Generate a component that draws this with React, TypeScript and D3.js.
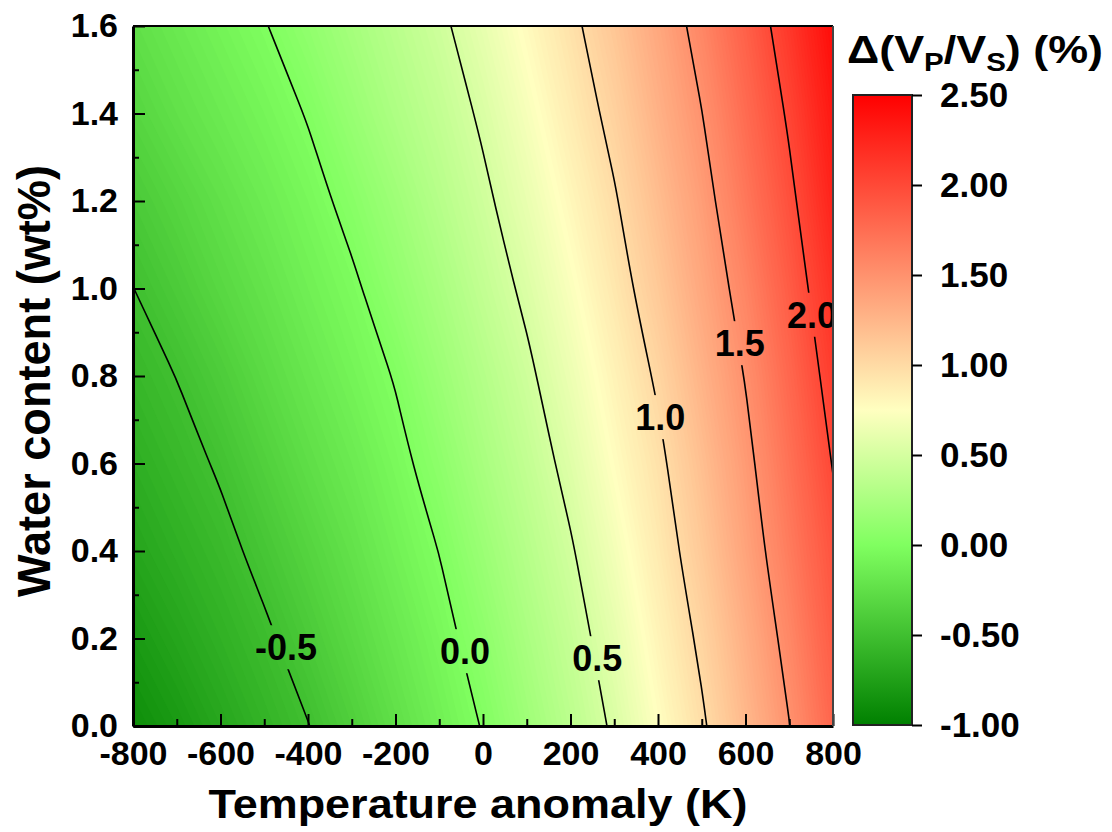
import React, { useEffect, useRef } from 'react';
import * as d3 from 'd3';

// grid of Δ(Vp/Vs) (%), one array per water content row
const tempGrid = [-800, -700, -600, -500, -400, -300, -200, -100, 0, 100, 200, 300, 400, 500, 600, 700, 800];
const waterGrid = [0, 0.2, 0.4, 0.6, 0.8, 1.0, 1.2, 1.4, 1.6];

const rowW00 = [-0.89, -0.80, -0.70, -0.60, -0.505, -0.38, -0.25, -0.12, 0.01, 0.18, 0.35, 0.53, 0.75, 0.97, 1.23, 1.495, 1.80];
const rowW02 = [-0.80, -0.71, -0.62, -0.53, -0.42, -0.30, -0.18, -0.06, 0.08, 0.25, 0.41, 0.60, 0.82, 1.04, 1.30, 1.57, 1.87];
const rowW04 = [-0.71, -0.63, -0.55, -0.45, -0.34, -0.23, -0.11, 0.003, 0.16, 0.32, 0.48, 0.68, 0.89, 1.12, 1.38, 1.65, 1.93];
const rowW06 = [-0.64, -0.56, -0.48, -0.37, -0.26, -0.16, -0.05, 0.08, 0.24, 0.39, 0.56, 0.76, 0.95, 1.19, 1.44, 1.72, 2.01];
const rowW08 = [-0.57, -0.497, -0.40, -0.29, -0.19, -0.09, 0.01, 0.16, 0.31, 0.46, 0.64, 0.83, 1.03, 1.27, 1.51, 1.79, 2.09];
const rowW10 = [-0.502, -0.41, -0.31, -0.22, -0.12, -0.03, 0.10, 0.24, 0.39, 0.54, 0.72, 0.91, 1.12, 1.35, 1.59, 1.87, 2.17];
const rowW12 = [-0.42, -0.33, -0.24, -0.15, -0.06, 0.05, 0.18, 0.32, 0.46, 0.62, 0.80, 0.98, 1.20, 1.42, 1.68, 1.95, 2.26];
const rowW14 = [-0.33, -0.24, -0.16, -0.08, 0.01, 0.14, 0.27, 0.39, 0.53, 0.70, 0.88, 1.06, 1.28, 1.496, 1.76, 2.03, 2.34];
const rowW16 = [-0.25, -0.17, -0.09, -0.01, 0.10, 0.22, 0.34, 0.46, 0.61, 0.78, 0.95, 1.14, 1.35, 1.58, 1.84, 2.12, 2.42];

// contour lines and where their labels sit
const contourLevels = [-0.5, 0, 0.5, 1.0, 1.5, 2.0];
const labelText = ['-0.5', '0.0', '0.5', '1.0', '1.5', '2.0'];
const labelTemp = [-450, -41, 261, 405, 587, 752];
const labelWater = [0.18, 0.171, 0.155, 0.706, 0.875, 0.94];

// axes
const xTicks = [-800, -600, -400, -200, 0, 200, 400, 600, 800];
const xMinor = [-700, -500, -300, -100, 100, 300, 500, 700];
const yTicks = [0, 0.2, 0.4, 0.6, 0.8, 1.0, 1.2, 1.4, 1.6];
const yMinor = [0.1, 0.3, 0.5, 0.7, 0.9, 1.1, 1.3, 1.5];
const barTicks = [-1, -0.5, 0, 0.5, 1, 1.5, 2, 2.5];

// colour map
const colorDomain = [-1, 0, 0.75, 2.5];
const colorRange = ['#008000', '#80ff60', '#ffffc0', '#ff0000'];

function App() {
  const ref = useRef(null);

  useEffect(() => {
    drawChart();
  }, []);

  function drawChart() {
    const svg = d3.select(ref.current);
    svg.selectAll('*').remove();

    const font = 'Arial, "Liberation Sans", sans-serif';
    const left = 133, top = 26, plotW = 700, plotH = 700;

    const x = d3.scaleLinear().domain([-800, 800]).range([left, left + plotW]);
    const y = d3.scaleLinear().domain([0, 1.6]).range([top + plotH, top]);
    const color = d3.scaleLinear<string>().domain(colorDomain).range(colorRange).clamp(true);

    const defs = svg.append('defs');
    defs.append('clipPath').attr('id', 'plotClip')
      .append('rect')
      .attr('x', left).attr('y', top).attr('width', plotW).attr('height', plotH);

    const labels = labelText.map((t, i) => ({ text: t, T: labelTemp[i], w: labelWater[i] }));

    // mask cutting the contour lines under their labels
    const mask = defs.append('mask').attr('id', 'labelGap')
      .attr('maskUnits', 'userSpaceOnUse')
      .attr('x', 0).attr('y', 0).attr('width', 1112).attr('height', 832);
    mask.append('rect').attr('width', 1112).attr('height', 832).attr('fill', 'white');
    mask.selectAll('rect.gap')
      .data(labels)
      .join('rect')
      .attr('class', 'gap')
      .attr('x', d => x(d.T) - 34)
      .attr('y', d => y(d.w) - 22)
      .attr('width', 68)
      .attr('height', 44)
      .attr('fill', 'black');

    // colorbar gradient
    const grad = defs.append('linearGradient').attr('id', 'cbar')
      .attr('x1', 0).attr('y1', 1).attr('x2', 0).attr('y2', 0);
    colorDomain.forEach(v => {
      grad.append('stop')
        .attr('offset', (v - colorDomain[0]) / (colorDomain[colorDomain.length - 1] - colorDomain[0]))
        .attr('stop-color', color(v));
    });

    // grid -> plot coordinates
    const gridRows = [rowW00, rowW02, rowW04, rowW06, rowW08, rowW10, rowW12, rowW14, rowW16];
    const values = gridRows.flat();
    const nx = tempGrid.length, ny = waterGrid.length;
    const dT = tempGrid[1] - tempGrid[0];
    const dW = waterGrid[1] - waterGrid[0];
    const px = (c: number) => x(tempGrid[0] + (c - 0.5) * dT);
    const py = (r: number) => y(waterGrid[0] + (r - 0.5) * dW);
    const toPlot = d3.geoTransform({
      point(c, r) {
        this.stream.point(px(c), py(r));
      }
    });
    const path = d3.geoPath(toPlot);

    const plot = svg.append('g').attr('clip-path', 'url(#plotClip)');

    // smooth colour fill from many thin bands
    const step = 0.02;
    const bandLevels = d3.range(-1.2, 2.6, step);
    const bands = d3.contours().size([nx, ny]).thresholds(bandLevels)(values);
    plot.append('g')
      .selectAll('path')
      .data(bands)
      .join('path')
      .attr('d', path)
      .attr('fill', d => color(d.value + step / 2))
      .attr('stroke', 'none');

    // contour lines: keep only the ring parts inside the sampled area, drawn as smooth open curves
    const eps = 1e-6;
    const inside = (p: number[]) =>
      p[0] >= 0.5 - eps && p[0] <= nx - 0.5 + eps && p[1] >= 0.5 - eps && p[1] <= ny - 0.5 + eps;
    const runsOf = (ring: number[][]) => {
      const pts = ring.slice(0, -1);
      const start = pts.findIndex(p => !inside(p));
      if (start < 0) return [pts.concat([pts[0]])];
      const rot = pts.slice(start).concat(pts.slice(0, start));
      const runs: number[][][] = [];
      let cur: number[][] = [];
      rot.forEach(p => {
        if (inside(p)) cur.push(p);
        else { if (cur.length > 1) runs.push(cur); cur = []; }
      });
      if (cur.length > 1) runs.push(cur);
      return runs;
    };
    const lineGen = d3.line<number[]>()
      .x(p => px(p[0]))
      .y(p => py(p[1]))
      .curve(d3.curveBasis);
    const contourPath = (g: any) => g.coordinates
      .flatMap((poly: number[][][]) => poly.flatMap(ring => runsOf(ring)))
      .map((run: number[][]) => lineGen(run))
      .join('');
    const lines = d3.contours().size([nx, ny]).thresholds(contourLevels)(values);
    plot.append('g')
      .attr('mask', 'url(#labelGap)')
      .selectAll('path')
      .data(lines)
      .join('path')
      .attr('d', contourPath)
      .attr('fill', 'none')
      .attr('stroke', '#000')
      .attr('stroke-width', 1.6);

    // contour labels
    plot.append('g')
      .selectAll('text')
      .data(labels)
      .join('text')
      .attr('x', d => x(d.T))
      .attr('y', d => y(d.w) + 13)
      .attr('text-anchor', 'middle')
      .attr('font-family', font)
      .attr('font-weight', 'bold')
      .attr('font-size', 36)
      .attr('fill', '#000')
      .text(d => d.text);

    // x axis
    const xAxis = svg.append('g')
      .attr('transform', `translate(0,${top + plotH})`)
      .call(d3.axisBottom(x).tickValues(xTicks).tickSizeInner(-12).tickSizeOuter(0).tickPadding(15).tickFormat(d => String(d)));
    xAxis.attr('font-family', font).attr('font-size', 34).attr('font-weight', 'bold');
    xAxis.select('.domain').attr('stroke-width', 3);
    xAxis.selectAll('.tick line').attr('stroke-width', 2);
    const xMinorAxis = svg.append('g')
      .attr('transform', `translate(0,${top + plotH})`)
      .call(d3.axisBottom(x).tickValues(xMinor).tickSizeInner(-7).tickSizeOuter(0).tickFormat(() => ''));
    xMinorAxis.select('.domain').remove();
    xMinorAxis.selectAll('.tick line').attr('stroke-width', 2);

    // y axis
    const yAxis = svg.append('g')
      .attr('transform', `translate(${left},0)`)
      .call(d3.axisLeft(y).tickValues(yTicks).tickSizeInner(-12).tickSizeOuter(0).tickPadding(15).tickFormat(d => (+d).toFixed(1)));
    yAxis.attr('font-family', font).attr('font-size', 34).attr('font-weight', 'bold');
    yAxis.select('.domain').attr('stroke-width', 3);
    yAxis.selectAll('.tick line').attr('stroke-width', 2);
    const yMinorAxis = svg.append('g')
      .attr('transform', `translate(${left},0)`)
      .call(d3.axisLeft(y).tickValues(yMinor).tickSizeInner(-6).tickSizeOuter(0).tickFormat(() => ''));
    yMinorAxis.select('.domain').remove();
    yMinorAxis.selectAll('.tick line').attr('stroke-width', 2);

    // top and right frame
    svg.append('line')
      .attr('x1', left).attr('x2', left + plotW).attr('y1', top).attr('y2', top)
      .attr('stroke', '#000').attr('stroke-width', 2);
    svg.append('line')
      .attr('x1', left + plotW).attr('x2', left + plotW).attr('y1', top).attr('y2', top + plotH)
      .attr('stroke', '#444').attr('stroke-width', 2);

    // axis titles
    svg.append('text')
      .attr('x', 478).attr('y', 818)
      .attr('text-anchor', 'middle')
      .attr('font-family', font).attr('font-weight', 'bold').attr('font-size', 41)
      .attr('textLength', 539).attr('lengthAdjust', 'spacingAndGlyphs')
      .text('Temperature anomaly (K)');
    svg.append('text')
      .attr('transform', 'translate(50,381) rotate(-90)')
      .attr('text-anchor', 'middle')
      .attr('font-family', font).attr('font-weight', 'bold').attr('font-size', 46)
      .attr('textLength', 432).attr('lengthAdjust', 'spacingAndGlyphs')
      .text('Water content (wt%)');

    // colorbar
    const yb = d3.scaleLinear().domain([barTicks[0], barTicks[barTicks.length - 1]]).range([725, 95]);
    svg.append('rect')
      .attr('x', 853).attr('y', yb(barTicks[barTicks.length - 1]))
      .attr('width', 59).attr('height', yb(barTicks[0]) - yb(barTicks[barTicks.length - 1]))
      .attr('fill', 'url(#cbar)')
      .attr('stroke', '#222').attr('stroke-width', 2);
    const bAxis = svg.append('g')
      .attr('transform', 'translate(912,0)')
      .call(d3.axisRight(yb).tickValues(barTicks).tickSize(10).tickPadding(18).tickFormat(d => (+d).toFixed(2)));
    bAxis.select('.domain').remove();
    bAxis.attr('font-family', font).attr('font-size', 35).attr('font-weight', 'bold');
    bAxis.selectAll('.tick line').attr('stroke-width', 2);

    const title = svg.append('text')
      .attr('x', 847).attr('y', 63)
      .attr('font-family', font).attr('font-weight', 'bold').attr('font-size', 38)
      .attr('textLength', 256).attr('lengthAdjust', 'spacingAndGlyphs');
    title.append('tspan').text('Δ(V');
    title.append('tspan').attr('font-size', 25).attr('dy', 8).text('P');
    title.append('tspan').attr('dy', -8).text('/V');
    title.append('tspan').attr('font-size', 25).attr('dy', 8).text('S');
    title.append('tspan').attr('dy', -8).text(') (%)');
  }

  return <svg ref={ref} width={1112} height={832} style={{ position: 'absolute', left: 0, top: 0 }} />;
}

export default App;
